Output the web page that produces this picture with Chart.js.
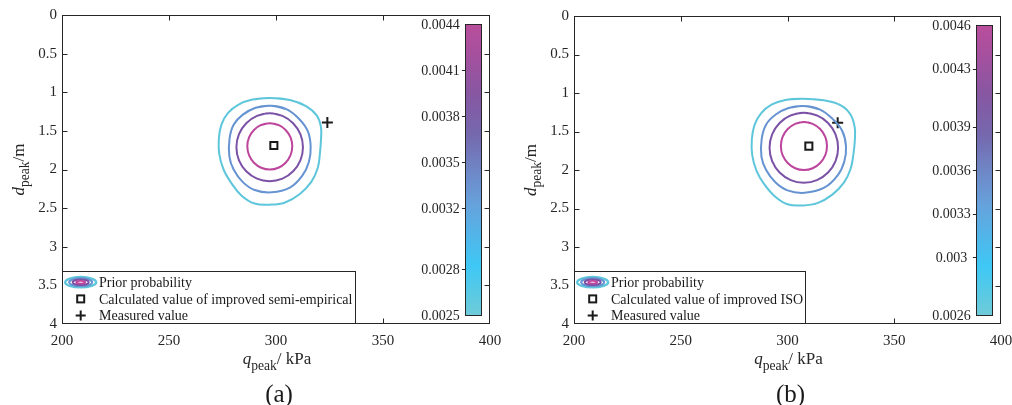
<!DOCTYPE html>
<html><head><meta charset="utf-8">
<script src="https://cdn.jsdelivr.net/npm/chart.js@4.4.1/dist/chart.umd.min.js"></script>
<style>
body{margin:0;background:#fff;width:1012px;height:405px;overflow:hidden;position:relative}
.p{position:absolute;top:0;width:506px;height:405px}
</style></head><body>
<div class="p" style="left:0"><canvas id="ca" width="506" height="405"></canvas></div>
<div class="p" style="left:506px"><canvas id="cb" width="506" height="405"></canvas></div>
<script>
// ---------- axes ----------
const xRange = [200, 400];
const yRange = [0, 4];
const xStep = 50;
const yStep = 0.5;

// ---------- panel (a) contours: [q_peak (kPa), d_peak (m)] ----------
const contourA1 = [[297,1.075],[306.5,1.10],[314,1.18],[319,1.30],[321,1.45],[321,1.62],[320.5,1.80],[319.5,1.98],[316.5,2.16],[311,2.32],[304,2.43],[297,2.455],[290,2.44],[283.8,2.335],[279,2.17],[275.5,2.00],[273.5,1.80],[273.3,1.60],[274.5,1.42],[277.5,1.27],[282.5,1.16],[289,1.095],[297,1.075]];
const contourA2 = [[297.5,1.175],[304.8,1.218],[310.6,1.339],[314.8,1.50],[316.2,1.70],[315.4,1.90],[312.3,2.08],[306.5,2.235],[298,2.296],[290,2.265],[284.4,2.16],[280.2,2.0],[278.2,1.83],[278.3,1.60],[280.2,1.42],[284.5,1.29],[290.5,1.20],[297.5,1.175]];
const contourA3 = [[297,1.272],[303,1.305],[308,1.401],[311.4,1.543],[312.6,1.712],[311.4,1.881],[308,2.023],[303,2.119],[297,2.152],[291.1,2.119],[286.1,2.023],[282.7,1.881],[281.5,1.712],[282.7,1.543],[286.1,1.401],[291.1,1.305],[297,1.272]];
const contourA4 = [[297.1,1.40],[301.1,1.423],[304.5,1.488],[306.8,1.585],[307.6,1.70],[306.8,1.815],[304.5,1.912],[301.1,1.977],[297.1,2.0],[293.1,1.977],[289.7,1.912],[287.4,1.815],[286.6,1.70],[287.4,1.585],[289.7,1.488],[293.1,1.423],[297.1,1.40]];
const calculatedA = [[299,1.69]];
const measuredA = [[324,1.39]];

// ---------- panel (b) contours ----------
const contourB1 = [[307,1.074],[317,1.095],[325,1.16],[329.5,1.28],[331.5,1.45],[331.5,1.63],[330.8,1.81],[329.5,1.99],[326.5,2.16],[321,2.32],[314,2.43],[307,2.46],[300,2.445],[294,2.34],[289,2.18],[285.5,2.01],[283.5,1.81],[283.3,1.60],[284.6,1.41],[287.7,1.26],[292.5,1.15],[299,1.09],[307,1.074]];
const contourB2 = [[307.5,1.169],[315,1.212],[321,1.333],[325.6,1.49],[327.4,1.69],[326.6,1.89],[323.5,2.07],[317.2,2.23],[308,2.296],[300,2.265],[294.3,2.16],[290,2.0],[287.8,1.83],[287.9,1.60],[290,1.41],[294.5,1.28],[300.5,1.195],[307.5,1.169]];
const contourB3 = [[307.6,1.256],[313.8,1.291],[319,1.389],[322.5,1.537],[323.7,1.711],[322.5,1.885],[319,2.033],[313.8,2.131],[307.6,2.166],[301.5,2.131],[296.3,2.033],[292.8,1.885],[291.6,1.711],[292.8,1.537],[296.3,1.389],[301.5,1.291],[307.6,1.256]];
const contourB4 = [[307.7,1.377],[311.8,1.400],[315.3,1.468],[317.7,1.570],[318.5,1.689],[317.7,1.808],[315.3,1.909],[311.8,1.977],[307.7,2.0],[303.6,1.977],[300.1,1.909],[297.7,1.808],[296.9,1.689],[297.7,1.570],[300.1,1.468],[303.6,1.400],[307.7,1.377]];
const calculatedB = [[310,1.69]];
const measuredB = [[323.5,1.386]];

// ---------- colorbars ----------
const colorbarRangeA = [0.0025, 0.0044];
const colorbarTicksA = [0.0025, 0.0028, 0.0032, 0.0035, 0.0038, 0.0041, 0.0044];
const colorbarLabelsA = ['0.0025','0.0028','0.0032','0.0035','0.0038','0.0041','0.0044'];
const colorbarRangeB = [0.0026, 0.0046];
const colorbarTicksB = [0.0026, 0.003, 0.0033, 0.0036, 0.0039, 0.0043, 0.0046];
const colorbarLabelsB = ['0.0026','0.003','0.0033','0.0036','0.0039','0.0043','0.0046'];

// ---------- texts ----------
const legendLabelsA = ['Prior probability', 'Calculated value of improved semi-empirical', 'Measured value'];
const legendLabelsB = ['Prior probability', 'Calculated value of improved ISO', 'Measured value'];
const xTitle = [['q','i'], ['peak','s'], ['/ kPa','n']];
const yTitle = [['d','i'], ['peak','s'], ['/m','n']];
const panelLabels = ['(a)', '(b)'];

// ---------- styles ----------
const contourColors = ['#5ec6db', '#6693d1', '#7b52a6', '#bd459c'];
const colormapStops = [[0,'#6fcbd8'],[0.17,'#3ec8f5'],[0.38,'#66a2dc'],[0.5,'#6f86c6'],[0.62,'#7568ae'],[0.76,'#8757a2'],[0.9,'#a6509e'],[1,'#b94e9c']];
const SERIF = "'Liberation Serif','Times New Roman',serif";
const AX = '#262626';

function pts(arr){ return arr.map(p => ({x:p[0], y:p[1]})); }
// closed loop: wrap neighbours so the smoothing is continuous at the seam
function loop(arr){ const n = arr.length; return pts([arr[n-2]].concat(arr, [arr[1]])); }

function drawRich(ctx, parts, x, y, size) {
  const fonts = {i:'italic '+size+'px '+SERIF, n:size+'px '+SERIF, s:(size*0.8)+'px '+SERIF};
  let w = 0;
  parts.forEach(p => { ctx.font = fonts[p[1]]; w += ctx.measureText(p[0]).width; });
  let cx = x - w/2;
  ctx.textBaseline = 'alphabetic'; ctx.textAlign = 'left';
  parts.forEach(p => {
    ctx.font = fonts[p[1]];
    ctx.fillText(p[0], cx, y + (p[1]==='s' ? size*0.33 : 0));
    cx += ctx.measureText(p[0]).width;
  });
}

function makePanelPlugin(P) {
  return {
    id: 'panelDecor',
    afterDatasetsDraw(chart) {
      const ctx = chart.ctx, a = chart.chartArea, xs = chart.scales.x, ys = chart.scales.y;
      ctx.save();
      const L = Math.round(a.left)+0.5, R = Math.round(a.right)-0.5, T = Math.round(a.top)+0.5, B = Math.round(a.bottom)-0.5;
      ctx.strokeStyle = AX; ctx.lineWidth = 1;
      // inward ticks (mirrored on all four sides)
      ctx.beginPath();
      xs.ticks.forEach((t, i) => {
        if (i === 0 || i === xs.ticks.length-1) return;
        const px = Math.round(xs.getPixelForValue(t.value))+0.5;
        ctx.moveTo(px, B); ctx.lineTo(px, B-5);
        ctx.moveTo(px, T); ctx.lineTo(px, T+5);
      });
      ys.ticks.forEach((t, i) => {
        if (i === 0 || i === ys.ticks.length-1) return;
        const py = Math.round(ys.getPixelForValue(t.value))+0.5;
        ctx.moveTo(L, py); ctx.lineTo(L+5, py);
        ctx.moveTo(R, py); ctx.lineTo(R-5, py);
      });
      ctx.stroke();
      ctx.strokeRect(L, T, R-L, B-T);

      // colorbar
      const cbR = a.right - 8, cbL = cbR - 16.6, cbT = a.top + 9, cbB = a.bottom - 8.7;
      const g = ctx.createLinearGradient(0, cbB, 0, cbT);
      colormapStops.forEach(s => g.addColorStop(s[0], s[1]));
      ctx.fillStyle = g;
      ctx.fillRect(cbL, cbT, cbR-cbL, cbB-cbT);
      ctx.strokeStyle = AX; ctx.lineWidth = 1;
      ctx.strokeRect(Math.round(cbL)+0.5, Math.round(cbT)+0.5, Math.round(cbR-cbL)-1, Math.round(cbB-cbT));
      const cy = v => cbB - (v - P.cbRange[0])/(P.cbRange[1]-P.cbRange[0])*(cbB-cbT);
      ctx.fillStyle = AX; ctx.font = '14px '+SERIF; ctx.textAlign = 'center'; ctx.textBaseline = 'middle';
      ctx.beginPath();
      P.cbTicks.forEach((v,i) => {
        const y = Math.round(cy(v))+0.5;
        if (i>0 && i<P.cbTicks.length-1) { ctx.moveTo(cbL-3.5, y); ctx.lineTo(cbL, y); }
        ctx.fillText(P.cbLabels[i], cbL - 25, cy(v)+1);
      });
      ctx.stroke();

      // legend box
      const lx = L, lb = B, lt = Math.round(a.bottom - 53.4)+0.5, lw = P.legendW;
      ctx.fillStyle = '#fff';
      ctx.fillRect(lx, lt, lw, lb-lt);
      ctx.strokeStyle = AX; ctx.lineWidth = 1;
      ctx.strokeRect(lx, lt, lw, lb-lt);
      const ix = a.left + 18.7, r1 = lt + 10.7, r2 = lt + 27.4, r3 = lt + 44;
      const rings = [[15.5,5.2,2.4],[11.5,3.9,2],[8,2.7,2],[4.5,1.4,1.8]];
      rings.forEach((r,i) => {
        ctx.beginPath(); ctx.strokeStyle = contourColors[i]; ctx.lineWidth = r[2];
        ctx.ellipse(ix, r1, r[0], r[1], 0, 0, Math.PI*2); ctx.stroke();
      });
      ctx.strokeStyle = '#1a1a1a'; ctx.lineWidth = 2;
      ctx.strokeRect(ix-3.5, r2-3.5, 7, 7);
      ctx.beginPath(); ctx.moveTo(ix-5, r3); ctx.lineTo(ix+5, r3); ctx.moveTo(ix, r3-5); ctx.lineTo(ix, r3+5); ctx.stroke();
      ctx.fillStyle = '#1a1a1a'; ctx.font = '14px '+SERIF; ctx.textAlign = 'left'; ctx.textBaseline = 'middle';
      [r1, r2, r3].forEach((ry, i) => ctx.fillText(P.legend[i], a.left + 37, ry + 1));

      // titles
      ctx.fillStyle = AX;
      drawRich(ctx, xTitle, (a.left+a.right)/2 + 1, a.bottom + 40, 17);
      ctx.save();
      ctx.translate(a.left - 38.5, (a.top+a.bottom)/2);
      ctx.rotate(-Math.PI/2);
      drawRich(ctx, yTitle, 0, 0, 17);
      ctx.restore();
      ctx.fillStyle = '#1a1a1a';
      ctx.font = '25px '+SERIF; ctx.textAlign = 'center'; ctx.textBaseline = 'middle';
      ctx.fillText(P.label, (a.left+a.right)/2 + 3, 395);
      ctx.restore();
    }
  };
}

function makeChart(id, P) {
  const ds = P.contours.map((c,i) => ({
    data: loop(c), showLine: true, borderColor: contourColors[i], borderWidth: 2,
    pointRadius: 0, tension: i === 3 ? 0.3 : 0.4, fill: false
  }));
  ds.push({ data: pts(P.calc), pointStyle: 'rect', pointRadius: 5, borderWidth: 2,
    borderColor: '#1a1a1a', backgroundColor: 'rgba(0,0,0,0)', showLine: false });
  ds.push({ data: pts(P.meas), pointStyle: 'cross', pointRadius: 5.5, borderWidth: 2,
    borderColor: '#1a1a1a', backgroundColor: '#1a1a1a', showLine: false });
  return new Chart(document.getElementById(id), {
    type: 'scatter',
    data: { datasets: ds },
    options: {
      responsive: false, animation: false, events: [],
      layout: { padding: { left: 0, top: P.padTop, right: P.padRight, bottom: 51 } },
      plugins: { legend: { display: false }, tooltip: { enabled: false } },
      scales: {
        x: { type: 'linear', min: xRange[0], max: xRange[1],
          grid: { display: false, drawTicks: false }, border: { display: false },
          ticks: { stepSize: xStep, padding: 8, color: AX, font: { family: SERIF, size: 15 }, maxRotation: 0 },
          afterFit: s => { s.height = 30; s.paddingLeft = 0; s.paddingRight = 0; } },
        y: { type: 'linear', min: yRange[0], max: yRange[1], reverse: true,
          grid: { display: false, drawTicks: false }, border: { display: false },
          ticks: { stepSize: yStep, padding: 5, color: AX, font: { family: SERIF, size: 15 },
            callback: v => String(Math.round(v*10)/10) },
          afterFit: s => { s.width = P.yWidth; s.paddingTop = 0; s.paddingBottom = 0; } }
      }
    },
    plugins: [makePanelPlugin(P)]
  });
}

makeChart('ca', { contours: [contourA1, contourA2, contourA3, contourA4], calc: calculatedA, meas: measuredA,
  cbRange: colorbarRangeA, cbTicks: colorbarTicksA, cbLabels: colorbarLabelsA, legend: legendLabelsA,
  legendW: 293, label: panelLabels[0], padTop: 15, padRight: 16, yWidth: 62 });
makeChart('cb', { contours: [contourB1, contourB2, contourB3, contourB4], calc: calculatedB, meas: measuredB,
  cbRange: colorbarRangeB, cbTicks: colorbarTicksB, cbLabels: colorbarLabelsB, legend: legendLabelsB,
  legendW: 231, label: panelLabels[1], padTop: 16, padRight: 11, yWidth: 68 });
</script>
</body></html>
